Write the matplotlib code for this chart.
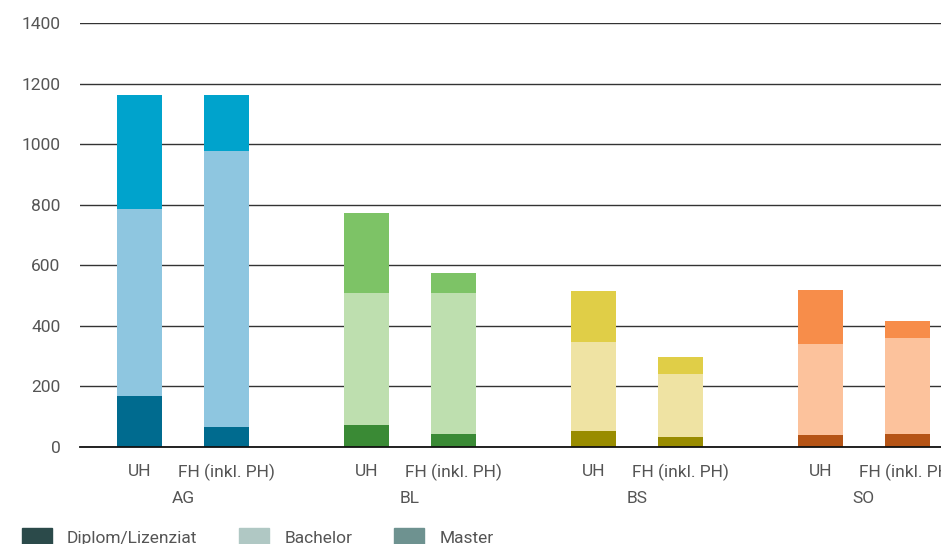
import matplotlib.pyplot as plt
import matplotlib.transforms as mtransforms
from matplotlib.patches import Patch
import numpy as np

plt.rcParams['font.family'] = ['Roboto', 'DejaVu Sans']

cantons = ['AG', 'BL', 'BS', 'SO']
types = ['UH', 'FH (inkl. PH)']

# values per canton: [UH, FH]
diplom = [[168, 66], [73, 43], [53, 33], [40, 43]]
bachelor = [[618, 911], [435, 465], [294, 208], [300, 317]]
master = [[376, 185], [264, 66], [168, 56], [178, 56]]

colors_diplom = ['#006b8f', '#3a8a35', '#998c00', '#b55416']
colors_bachelor = ['#8ec6e0', '#bedfaf', '#efe3a3', '#fcc29c']
colors_master = ['#00a3cc', '#7dc366', '#e0ce47', '#f78d4a']

legend_labels = ['Diplom/Lizenziat', 'Bachelor', 'Master']
legend_colors = ['#2b4a4a', '#b0c8c4', '#6e9290']

fig = plt.figure(figsize=(9.41, 5.44), dpi=100)
ax = fig.add_axes([80 / 941, 97 / 544, 887.5 / 941, 424 / 544])

group_gap = 2.609
width = 0.52
xpos = []
xlabels = []
for i, c in enumerate(cantons):
    for j in range(2):
        x = i * group_gap + j
        d = diplom[i][j]
        b = bachelor[i][j]
        m = master[i][j]
        ax.bar(x, d, width, color=colors_diplom[i], zorder=3)
        ax.bar(x, b, width, bottom=d, color=colors_bachelor[i], zorder=3)
        ax.bar(x, m, width, bottom=d + b, color=colors_master[i], zorder=3)
        xpos.append(x)
        xlabels.append(types[j])

trans = mtransforms.blended_transform_factory(ax.transData, ax.transAxes)
for i, c in enumerate(cantons):
    ax.text(i * group_gap + 0.5, -0.122, c, transform=trans, ha='center', va='center',
            fontsize=12.5, color='#555555')

ax.set_xlim(-0.684, 9.52)
ax.set_ylim(0, 1400)
ax.set_yticks(np.arange(0, 1401, 200))
ax.set_xticks(xpos)
ax.set_xticklabels(xlabels)
ax.tick_params(axis='both', length=0, labelsize=12.5, colors='#555555')
ax.tick_params(axis='x', pad=12)
ax.tick_params(axis='y', pad=14)
ax.grid(axis='y', color='#333333', linewidth=1, zorder=0)
for s in ['top', 'right', 'left']:
    ax.spines[s].set_visible(False)
ax.spines['bottom'].set_color('#111111')
ax.spines['bottom'].set_linewidth(1.3)
ax.spines['bottom'].set_zorder(4)

handles = [Patch(color=col) for col in legend_colors]
fig.legend(handles, legend_labels, loc='upper left', bbox_to_anchor=(0.0234, 0.029),
           ncol=3, frameon=False, fontsize=12.5, handlelength=1.73, handleheight=1.2,
           handletextpad=0.86, columnspacing=2.42, labelcolor='#555555',
           borderpad=0, borderaxespad=0)

fig.savefig('out.png', dpi=100)
